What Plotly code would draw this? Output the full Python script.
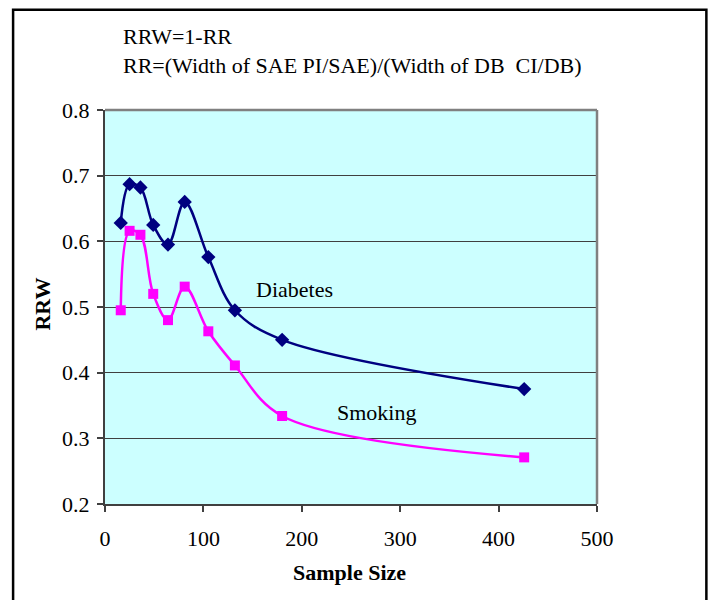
import plotly.graph_objects as go

sample_size = [16, 25, 36, 49, 64, 81, 105, 132, 180, 426]
diabetes = [0.628, 0.687, 0.682, 0.625, 0.595, 0.660, 0.576, 0.495, 0.450, 0.375]
smoking = [0.495, 0.616, 0.610, 0.520, 0.480, 0.531, 0.463, 0.411, 0.334, 0.271]

x_ticks = [0, 100, 200, 300, 400, 500]
y_ticks = [0.2, 0.3, 0.4, 0.5, 0.6, 0.7, 0.8]

FONT = "Liberation Serif, Times New Roman, serif"

fig = go.Figure()
fig.add_trace(go.Scatter(
    x=sample_size, y=diabetes, mode="lines+markers", name="Diabetes",
    line=dict(color="#000080", width=2.5, shape="spline", smoothing=1.0),
    marker=dict(symbol="diamond", size=11, color="#000080"),
    cliponaxis=False,
))
fig.add_trace(go.Scatter(
    x=sample_size, y=smoking, mode="lines+markers", name="Smoking",
    line=dict(color="#FF00FF", width=2.5, shape="spline", smoothing=1.0),
    marker=dict(symbol="square", size=10, color="#FF00FF"),
    cliponaxis=False,
))

fig.update_layout(
    width=710, height=600,
    margin=dict(l=104.5, r=113, t=110, b=96),
    paper_bgcolor="white",
    plot_bgcolor="#CCFFFF",
    showlegend=False,
    font=dict(family=FONT, size=22, color="black"),
    xaxis=dict(
        range=[0, 500], tickvals=x_ticks, ticktext=[str(v) for v in x_ticks],
        showgrid=False, zeroline=False,
        showline=True, linecolor="#404040", linewidth=2,
        ticks="outside", ticklen=6, tickcolor="#404040", tickwidth=1.5,
        tickfont=dict(family=FONT, size=22), ticklabelstandoff=8,
    ),
    yaxis=dict(
        range=[0.2, 0.8], tickvals=y_ticks, ticktext=[f"{v:.1f}" for v in y_ticks],
        showgrid=True, gridcolor="#404040", gridwidth=1,
        zeroline=False,
        showline=True, linecolor="#404040", linewidth=2,
        ticks="outside", ticklen=6, tickcolor="#404040", tickwidth=1.5,
        tickfont=dict(family=FONT, size=22), ticklabelstandoff=3,
    ),
)

# Plot-area border (top and right, gray)
fig.add_shape(type="line", xref="paper", yref="paper", x0=0, x1=1, y0=1, y1=1,
              line=dict(color="#808080", width=2.5))
fig.add_shape(type="line", xref="paper", yref="paper", x0=1, x1=1, y0=0, y1=1,
              line=dict(color="#808080", width=2.5))

# Outer chart border
fig.add_shape(type="rect", xref="paper", yref="paper",
              x0=-0.1868, x1=1.2223, y0=-0.28, y1=1.2545,
              line=dict(color="black", width=2.5), fillcolor="rgba(0,0,0,0)")

# Text annotations
fig.add_annotation(text="RRW=1-RR", xref="paper", yref="paper", x=0.033, y=1.186,
                   xanchor="left", yanchor="middle", showarrow=False,
                   font=dict(family=FONT, size=22))
fig.add_annotation(text="RR=(Width of SAE PI/SAE)/(Width of DB  CI/DB)", xref="paper", yref="paper",
                   x=0.033, y=1.114, xanchor="left", yanchor="middle", showarrow=False,
                   font=dict(family=FONT, size=22))
fig.add_annotation(text="Diabetes", x=151.8, y=0.526, xanchor="left", yanchor="middle",
                   showarrow=False, font=dict(family=FONT, size=22))
fig.add_annotation(text="Smoking", x=234, y=0.340, xanchor="left", yanchor="middle",
                   showarrow=False, font=dict(family=FONT, size=22))

# Axis titles
fig.add_annotation(text="<b>Sample Size</b>", xref="paper", yref="paper",
                   x=(349 - 104.5) / 492.5, y=(504 - 572.7) / 394,
                   xanchor="center", yanchor="middle", showarrow=False,
                   font=dict(family=FONT, size=22))
fig.add_annotation(text="<b>RRW</b>", xref="paper", yref="paper",
                   x=(41 - 104.5) / 492.5, y=(504 - 304) / 394,
                   xanchor="center", yanchor="middle", showarrow=False, textangle=-90,
                   font=dict(family=FONT, size=22))

fig.write_html("out.html", config={"displayModeBar": False},
               post_script="document.body.style.margin='0';document.body.style.overflow='hidden';")
